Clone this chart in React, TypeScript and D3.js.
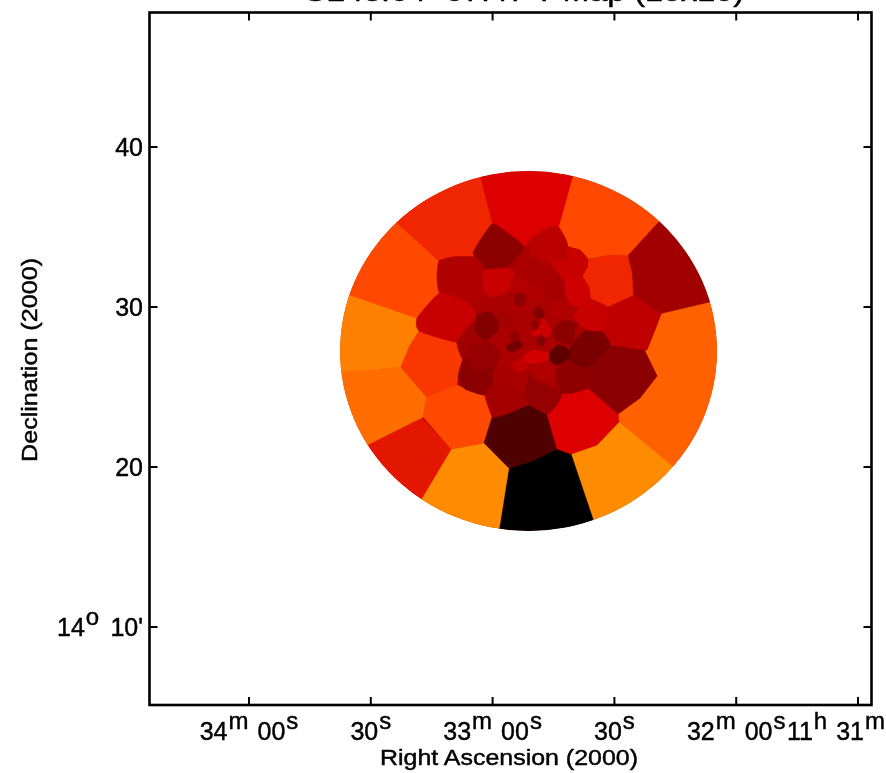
import React from "react";
import * as d3 from "d3";

// RA as seconds east of 11h 33m 00s, Dec as arcminutes past 14 deg
const cellVertices: number[][][] = [
  [[0.1,35.19],[3.1,38.13],[5.6,40.44],[-22.5,40.44],[-19.8,38.13],[-16.4,35],[-14.1,35],[-9.2,34.19],[-7.7,33.75],[-4.3,34.5]],
  [[-16.4,35],[-19.8,38.13],[-22.5,40.44],[-48.6,37.31],[-40.7,35.25],[-33.3,33.19],[-28.9,33.25],[-23.5,33],[-21.5,33.56],[-18.6,33.81],[-18.3,34.06]],
  [[-33.3,33.19],[-40.7,35.25],[-48.6,37.31],[-63.4,31.06],[-53,30.25],[-41.5,29.56],[-34.6,30.75],[-34.3,32.13]],
  [[-41.5,29.56],[-53,30.25],[-63.4,31.06],[-65.9,22.81],[-51.1,18.56],[-44.2,20.06],[-31.1,22.81],[-30.9,23.31],[-36.3,24.31],[-40.5,25.69],[-37.5,27.25],[-38,27.31]],
  [[-19.3,20.81],[-24.7,16.75],[-28.9,13.56],[-51.1,18.56],[-44.2,20.06],[-31.1,22.81],[-25.7,21.38]],
  [[-4,19.94],[-1.6,16.13],[0.6,13.56],[-28.9,13.56],[-24.7,16.75],[-19.3,20.81],[-15.9,21.13],[-9.2,20.31]],
  [[17.4,18.06],[22.8,16.06],[0.6,13.56],[-1.6,16.13],[-4,19.94],[2.1,21.5],[10.2,21.13]],
  [[30.4,21.44],[37.6,20.44],[22.8,16.06],[17.4,18.06],[10.2,21.13],[17.4,23.06]],
  [[37.1,25.94],[47.4,25.75],[37.6,20.44],[30.4,21.44],[17.1,23.13],[16.2,24.38],[22.6,26.25]],
  [[35.1,30.75],[45,31.69],[47.4,25.75],[37.1,25.94],[22.6,26.25],[20.3,27.63],[18.1,28.5],[18.6,29.31]],
  [[23.5,35.25],[32.7,37.31],[45,31.69],[35.1,30.75],[18.6,29.31],[13,30.88],[13.7,31.88],[13.2,32.88]],
  [[3.1,38.13],[5.6,40.44],[32.7,37.31],[23.5,35.25],[13.2,32.88],[9.8,33.13],[4.3,33.13],[0.1,35.19]],
  [[22.6,26.25],[20.3,27.63],[18.1,28.5],[8.8,27.81],[7.3,26.69],[8.5,25.63],[8.8,25.13],[16.2,24.38]],
  [[16.2,24.38],[8.8,25.13],[6.8,24.88],[1.9,24.5],[0.1,23.13],[2.1,21.5],[10.2,21.13],[17.1,23.13]],
  [[2.1,21.5],[-4,19.94],[-9.2,20.31],[-15.9,21.13],[-13.4,23.31],[-9.2,23.88],[-1.8,23.19],[0.1,23.13]],
  [[-13.4,23.31],[-15.9,21.13],[-19.3,20.81],[-25.7,21.38],[-31.1,22.81],[-30.9,23.31],[-23.5,24.94],[-19.8,24.63],[-17.1,24.63],[-15.9,23.88]],
  [[-23.5,24.94],[-30.9,23.31],[-36.3,24.31],[-40.5,25.69],[-37.5,27.25],[-28.9,27.63],[-23.5,26.19]],
  [[-28.2,30],[-34.6,30.75],[-41.5,29.56],[-40,28.56],[-38,27.31],[-28.9,27.63],[-27.2,28.56]],
  [[-23.5,33],[-28.9,33.25],[-33.3,33.19],[-34.3,32.13],[-34.6,30.75],[-28.2,30],[-24,30.56],[-23.7,31.25],[-22,31.88],[-23.5,32.5]],
  [[0.1,35.19],[4.8,33.38],[1.9,32.44],[-3.5,32.44],[-7.7,33.75],[-4.3,34.5]],
  [[13.2,32.88],[13.7,31.88],[13,30.88],[6.1,30.25],[1.9,30.88],[2.4,31.88],[1.9,32.44],[4.3,33.13],[9.8,33.13]],
  [[13,30.88],[18.6,29.31],[18.1,28.5],[8.8,27.81],[4.8,29],[4.3,29.63],[6.1,30.25]],
  [[8.8,27.81],[4.8,29],[0.6,27.94],[-0.6,26.38],[4.8,26.75],[7.3,26.69]],
  [[8.5,25.63],[7.3,26.69],[4.8,26.75],[-0.1,26.38],[-0.6,25.63],[1.9,24.5],[6.8,24.88]],
  [[1.9,24.5],[-0.1,25.13],[-4.8,25.25],[-8,24.63],[-8,23.88],[-4.3,23.38],[-1.8,23.19],[0.1,23.13]],
  [[-9.2,25.94],[-10.4,25.44],[-14.6,24.94],[-17.1,24.63],[-15.9,23.88],[-13.4,23.31],[-9.2,23.88],[-8,24.63]],
  [[-15.4,25.63],[-15.9,26.19],[-18.3,26.56],[-23.5,26.19],[-23.7,25.56],[-23.5,24.94],[-19.8,24.63],[-17.1,24.63]],
  [[-19.1,27.5],[-22.8,28.56],[-26.9,28.44],[-28.9,27.63],[-23.5,26.19],[-18.3,26.69]],
  [[-9.2,34.19],[-13.4,34.94],[-16.4,34.94],[-18.3,34.06],[-18.3,33.06],[-14.6,32.75],[-11.2,32.94],[-9.2,33.38]],
  [[-14.6,32.75],[-18.3,32.94],[-18.6,33.69],[-21.5,33.56],[-23.5,32.94],[-22,31.88],[-17.8,31.69]],
  [[-17.8,31.69],[-22,31.88],[-23.7,31.25],[-24,30.56],[-21.5,30],[-18.6,30.31]],
  [[-19.8,29.5],[-24,30.44],[-28.2,30],[-27.2,28.56],[-23.3,28.56],[-20.3,29.19]],
  [[-14.9,28.56],[-17.3,29.19],[-21,29],[-20.3,28.56],[-19.6,27.63],[-15.4,27.94]],
  [[-14.1,30.25],[-18.3,30.44],[-20.3,29.63],[-18.3,29.19],[-14.9,29.38]],
  [[-12.9,31.69],[-16.6,31.81],[-17.8,31.06],[-15.4,30.44],[-12.9,30.75]],
  [[-8.5,31.19],[-10.9,31.38],[-12.9,30.88],[-11.7,30.31],[-9.2,30.44]],
  [[2.4,31.88],[1.9,30.88],[-0.6,30.63],[-4.3,31.06],[-4.3,31.5],[-5.5,32.13],[-3.5,32.44],[1.9,32.31]],
  [[-4.8,31.69],[-7.5,31.81],[-8.7,31.25],[-7.2,30.88],[-4.8,30.88]],
  [[-5.5,30.75],[-7.2,30.88],[-8.2,30.56],[-7.5,30.13],[-6,30.13],[-5.3,30.44]],
  [[-1.1,29.63],[-3.5,29.69],[-5,29.31],[-4.3,28.88],[-1.8,28.88]],
  [[3.8,29.5],[0.6,29.69],[-1.3,29.19],[-1.1,28.44],[1.9,27.94],[4.3,28.56]],
  [[5.6,27.5],[0.6,27.75],[-1.8,27.13],[-0.6,26.25],[3.1,26.06],[5.6,26.25]],
  [[-0.1,25.94],[-2.6,26.38],[-5.5,25.94],[-5,25.44],[-0.6,25.44]],
  [[-9.2,27],[-11.7,27.13],[-14.1,26.88],[-15.4,26.19],[-15.4,25.63],[-12.4,25.38],[-10.4,25.63],[-9.2,26.19]],
  [[-4.8,26.5],[-7.2,26.81],[-8.7,26.38],[-8,26.06],[-5.5,25.94]],
  [[-7.5,26.88],[-10,27.31],[-13.6,27.13],[-13.6,26.69],[-11.2,26.5],[-8.7,26.5]],
  [[-14.1,27.19],[-16.1,27.63],[-18.3,27.44],[-19.1,27],[-17.3,26.5],[-15.4,26.38],[-14.1,26.69]],
  [[-3.3,27.5],[-4.8,27.81],[-6.3,27.94],[-7.5,27.63],[-6,27.31],[-4.3,27.19]],
  [[-4.3,28.25],[-5.5,28.44],[-6.7,28.25],[-6.3,27.94],[-4.8,27.81]],
  [[-10.9,27.94],[-12.2,28.19],[-13.1,27.94],[-12.4,27.63],[-11.2,27.63]],
  [[-11.2,28.56],[-12.4,29.31],[-14.1,28.75],[-14.6,28.38],[-12.9,28.13]],
  [[-9.7,29],[-10.7,29.19],[-11.4,28.88],[-10.7,28.63],[-9.7,28.75]],
  [[-10,29.69],[-11.2,30],[-12.7,29.69],[-12.4,29.38],[-10.9,29.25]],
  [[-10,28.44],[-11.7,28.56],[-11.2,28.25],[-9.7,28.25]],
];
const cellValues: number[] = [
  0.3, 0.43, 0.218, 0.49, 0.6, 0, 0.6, 0.335, 0.52, 0.57, 0.43, 0.37, 0.4, 0.43, 0.109, 0.3, 0.19, 0.26, 0.37, 0.191,
  0.24, 0.273, 0.218, 0.19, 0.225, 0.203, 0.196, 0.166, 0.255, 0.274, 0.282, 0.273, 0.191, 0.24, 0.229, 0.24, 0.273, 0.247,
  0.191, 0.224, 0.179, 0.205, 0.229, 0.24, 0.262, 0.289, 0.128, 0.161, 0.195, 0.181, 0.278, 0.188, 0.179, 0.3,
];
const colorStops: number[] = [0, 0.3, 0.335, 0.37, 0.43, 0.6];
const colorRange: string[] = ["#000000", "#dc0000", "#e31600", "#f02800", "#ff4a00", "#ff8c00"];
const fieldCentre: number[] = [-8.84, 27.25];
const fieldRadius: number[] = [46.43, 11.25];
const fieldBaseValue = 0.232;

const raTicks: number[] = [60, 30, 0, -30, -60, -90];
const raLabels: string[][] = [["34", "m", "00", "s"], ["30", "s"], ["33", "m", "00", "s"], ["30", "s"], ["32", "m", "00", "s"], ["11", "h", "31", "m"]];
const decTicks: number[] = [40, 30, 20, 10];
const decLabels: string[] = ["40", "30", "20", "10'"];
const titleText = "G243.64+67.47 T Map (10x10)";
const xTitle = "Right Ascension (2000)";
const yTitle = "Declination (2000)";

const W = 886, H = 773;
const FONT = "'Liberation Sans', sans-serif";
const x = d3.scaleLinear().domain([0, 60]).range([492.6, 249]);
const y = d3.scaleLinear().domain([30, 40]).range([307, 147]);
const color = d3.scaleLinear<string>().domain(colorStops).range(colorRange).clamp(true);
const straight = d3.line<number[]>().x((d) => x(d[0])).y((d) => y(d[1])).curve(d3.curveLinearClosed);
const rounded = d3.line<number[]>().x((d) => x(d[0])).y((d) => y(d[1])).curve(d3.curveCardinalClosed.tension(0.55));
const firstRoundedCell = 19;

const L = 149.5, R = 871.5, T = 12.5, B = 705, TICK = 8;
const LABEL = 25, SUP = 24;

export default function App() {
  const cx = x(fieldCentre[0]), cy = y(fieldCentre[1]);
  const rx = x(0) - x(fieldRadius[0]), ry = y(0) - y(fieldRadius[1]);
  return (
    <svg width={W} height={H} viewBox={`0 0 ${W} ${H}`} style={{ position: "absolute", left: 0, top: 0, background: "#fff" }} fontFamily={FONT}>
      <defs>
        <clipPath id="field"><ellipse cx={cx} cy={cy} rx={rx} ry={ry} /></clipPath>
        <filter id="soft" filterUnits="userSpaceOnUse" x="0" y="0" width={W} height={H}><feGaussianBlur stdDeviation="0.7" /></filter>
      </defs>
      <g filter="url(#soft)">
        <g clipPath="url(#field)">
          <ellipse cx={cx} cy={cy} rx={rx} ry={ry} fill={color(fieldBaseValue)} />
          {cellVertices.map((v, i) => {
            const shape = i >= firstRoundedCell ? rounded : straight;
            return <path key={i} d={shape(v) ?? ""} fill={color(cellValues[i])} stroke={color(cellValues[i])} strokeWidth={0.6} strokeLinejoin="round" />;
          })}
        </g>
        <rect x={L} y={T} width={R - L} height={B - T} fill="none" stroke="#000" strokeWidth={2.6} />
        {raTicks.map((t) => (
          <g key={t} stroke="#000" strokeWidth={2}>
            <line x1={x(t)} x2={x(t)} y1={B} y2={B - TICK} />
            <line x1={x(t)} x2={x(t)} y1={T} y2={T + TICK} />
          </g>
        ))}
        {decTicks.map((t) => (
          <g key={t} stroke="#000" strokeWidth={2}>
            <line x1={L} x2={L + TICK} y1={y(t)} y2={y(t)} />
            <line x1={R} x2={R - TICK} y1={y(t)} y2={y(t)} />
          </g>
        ))}
        <g stroke="#000" strokeWidth={0.45}>
          <text x={523} y={1} textAnchor="middle" fontSize={27} textLength={442} lengthAdjust="spacingAndGlyphs">{titleText}</text>
          {raTicks.map((t, i) => {
            const last = i === raTicks.length - 1;
            return (
              <text key={t} x={last ? 885 : x(t)} y={740} textAnchor={last ? "end" : "middle"} fontSize={LABEL}>
                {raLabels[i].map((p, k) =>
                  k % 2 === 1 ? (
                    <tspan key={k} dy={-11} dx={1} fontSize={SUP}>{p}</tspan>
                  ) : (
                    <tspan key={k} dy={k === 0 ? 0 : 11} dx={k === 0 ? 0 : 9}>{p}</tspan>
                  )
                )}
              </text>
            );
          })}
          {decTicks.map((t, i) => (
            <text key={t} x={143} y={y(t) + 9} textAnchor="end" fontSize={LABEL}>{decLabels[i]}</text>
          ))}
          <text x={57} y={y(10) + 9} fontSize={LABEL}>14<tspan dy={-11} dx={1} fontSize={SUP}>o</tspan></text>
          <text x={509} y={765} textAnchor="middle" fontSize={22} textLength={258} lengthAdjust="spacingAndGlyphs">{xTitle}</text>
          <text transform="translate(37,360) rotate(-90)" textAnchor="middle" fontSize={22} textLength={204} lengthAdjust="spacingAndGlyphs">{yTitle}</text>
        </g>
      </g>
    </svg>
  );
}
